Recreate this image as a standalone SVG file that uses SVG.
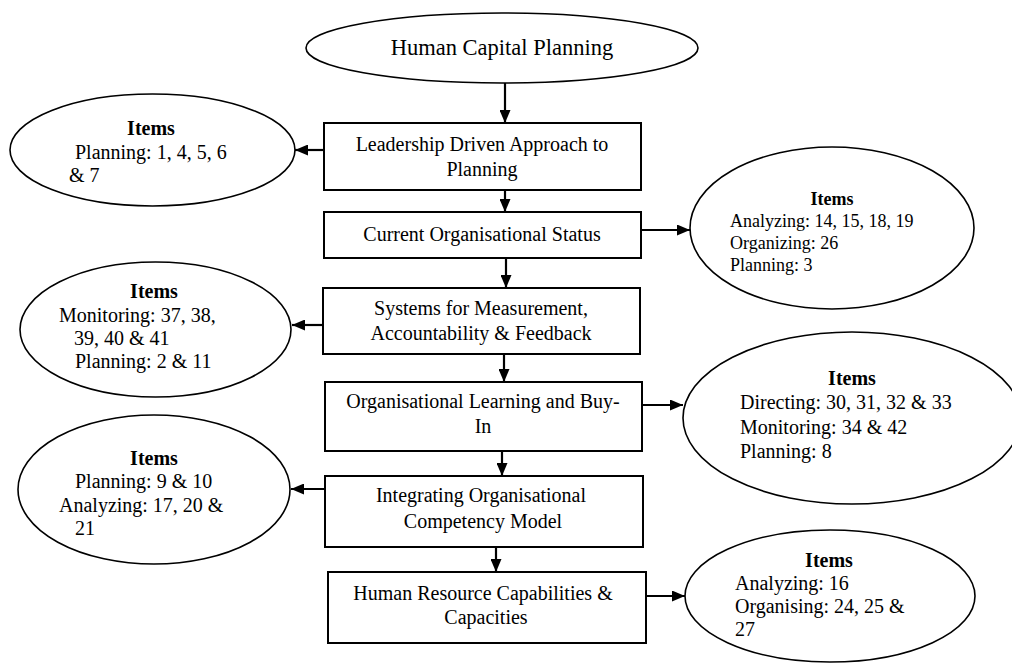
<svg xmlns="http://www.w3.org/2000/svg" width="1012" height="664" viewBox="0 0 1012 664">
<style>
  .shape { fill: #ffffff; stroke: #000000; stroke-width: 1.6; }
  .box { fill: #ffffff; stroke: #000000; stroke-width: 2; }
  .t { font-family: "Liberation Serif", "Times New Roman", serif; font-size: 20px; fill: #000000; }
  .c { text-anchor: middle; }
  .b { font-weight: bold; }
  .s18 { font-size: 18px; }
  .conn { stroke: #000000; stroke-width: 2.2; fill: none; marker-end: url(#ah); }
</style>
<defs>
  <marker id="ah" markerWidth="13" markerHeight="11" refX="13" refY="5.5" orient="auto" markerUnits="userSpaceOnUse">
    <path d="M0,0 L13,5.5 L0,11 Z" fill="#000000"/>
  </marker>
</defs>
<rect width="1012" height="664" fill="#ffffff"/>

<g id="connectors">
  <line class="conn" x1="505" y1="83" x2="505" y2="123"/>
  <line class="conn" x1="324" y1="150" x2="295" y2="150"/>
  <line class="conn" x1="505" y1="190" x2="505" y2="212"/>
  <line class="conn" x1="641" y1="230" x2="690" y2="230"/>
  <line class="conn" x1="506" y1="258" x2="506" y2="288"/>
  <line class="conn" x1="323" y1="325" x2="292" y2="325"/>
  <line class="conn" x1="504" y1="354" x2="504" y2="382"/>
  <line class="conn" x1="642" y1="405" x2="683" y2="405"/>
  <line class="conn" x1="502" y1="451" x2="502" y2="476"/>
  <line class="conn" x1="325" y1="489" x2="291" y2="489"/>
  <line class="conn" x1="496" y1="547" x2="496" y2="572"/>
  <line class="conn" x1="646" y1="596" x2="685" y2="596"/>
</g>

<g id="node-top">
  <ellipse class="shape" cx="502" cy="48" rx="196" ry="35"/>
  <text class="t c" x="502" y="55" style="font-size:22.5px">Human Capital Planning</text>
</g>

<g id="box-leadership">
  <rect class="box" x="324" y="123" width="317" height="67"/>
  <text class="t c" x="482" y="151">Leadership Driven Approach to</text>
  <text class="t c" x="482" y="176">Planning</text>
</g>

<g id="box-current">
  <rect class="box" x="324" y="212" width="317" height="46"/>
  <text class="t c" x="482" y="241">Current Organisational Status</text>
</g>

<g id="box-systems">
  <rect class="box" x="323" y="288" width="317" height="66"/>
  <text class="t c" x="481" y="315">Systems for Measurement,</text>
  <text class="t c" x="481" y="340">Accountability &amp; Feedback</text>
</g>

<g id="box-learning">
  <rect class="box" x="325" y="382" width="317" height="69"/>
  <text class="t c" x="483" y="408">Organisational Learning and Buy-</text>
  <text class="t c" x="483" y="433">In</text>
</g>

<g id="box-integrating">
  <rect class="box" x="325" y="476" width="318" height="71"/>
  <text class="t c" x="481" y="502">Integrating Organisational</text>
  <text class="t c" x="483" y="528">Competency Model</text>
</g>

<g id="box-hr">
  <rect class="box" x="328" y="572" width="318" height="71"/>
  <text class="t c" x="483" y="600">Human Resource Capabilities &amp;</text>
  <text class="t c" x="486" y="624">Capacities</text>
</g>

<g id="items-leadership">
  <ellipse class="shape" cx="152.5" cy="150" rx="142.5" ry="56"/>
  <text class="t c b" x="151" y="135">Items</text>
  <text class="t" x="75" y="159">Planning: 1, 4, 5, 6</text>
  <text class="t" x="69" y="182">&amp; 7</text>
</g>

<g id="items-current">
  <ellipse class="shape" cx="832" cy="228" rx="142" ry="81"/>
  <text class="t c b s18" x="832" y="205">Items</text>
  <text class="t s18" x="730" y="227">Analyzing: 14, 15, 18, 19</text>
  <text class="t s18" x="730" y="249">Organizing: 26</text>
  <text class="t s18" x="730" y="271">Planning: 3</text>
</g>

<g id="items-systems">
  <ellipse class="shape" cx="155.5" cy="329.5" rx="135.5" ry="67.5"/>
  <text class="t c b" x="154" y="298">Items</text>
  <text class="t" x="59" y="322">Monitoring: 37, 38,</text>
  <text class="t" x="74" y="345">39, 40 &amp; 41</text>
  <text class="t" x="75" y="368">Planning: 2 &amp; 11</text>
</g>

<g id="items-learning">
  <ellipse class="shape" cx="852" cy="418" rx="169" ry="86"/>
  <text class="t c b" x="852" y="385">Items</text>
  <text class="t" x="740" y="409">Directing: 30, 31, 32 &amp; 33</text>
  <text class="t" x="740" y="434">Monitoring: 34 &amp; 42</text>
  <text class="t" x="740" y="458">Planning: 8</text>
</g>

<g id="items-integrating">
  <ellipse class="shape" cx="154" cy="489.5" rx="136" ry="74.5"/>
  <text class="t c b" x="154" y="465">Items</text>
  <text class="t" x="75" y="488">Planning: 9 &amp; 10</text>
  <text class="t" x="59" y="512">Analyzing: 17, 20 &amp;</text>
  <text class="t" x="75" y="535">21</text>
</g>

<g id="items-hr">
  <ellipse class="shape" cx="830" cy="596" rx="145" ry="66"/>
  <text class="t c b" x="829" y="567">Items</text>
  <text class="t" x="735" y="590">Analyzing: 16</text>
  <text class="t" x="735" y="613">Organising: 24, 25 &amp;</text>
  <text class="t" x="735" y="636">27</text>
</g>
</svg>
